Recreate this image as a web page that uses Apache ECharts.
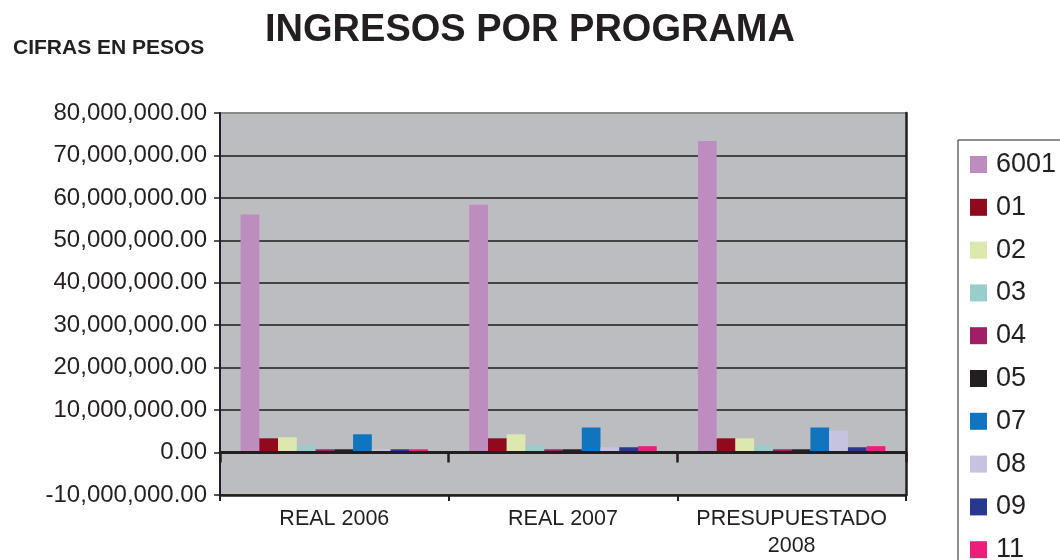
<!DOCTYPE html>
<html>
<head>
<meta charset="utf-8">
<title>Ingresos por programa</title>
<script src="https://cdn.jsdelivr.net/npm/echarts@6/dist/echarts.min.js"></script>
<style>
  html, body { margin: 0; padding: 0; background: #ffffff; }
  #chart { width: 1060px; height: 560px; }
</style>
</head>
<body>
<div id="chart"></div>
<script>
// Periodos (categorías del eje X)
const categories = ['REAL 2006', 'REAL 2007', 'PRESUPUESTADO\n2008'];

// Ingresos por programa, en pesos
const programas = ['6001', '01', '02', '03', '04', '05', '07', '08', '09', '11'];
const p6001 = [56100000, 58400000, 73400000];
const p01 = [3350000, 3350000, 3350000];
const p02 = [3600000, 4300000, 3350000];
const p03 = [1700000, 1700000, 1700000];
const p04 = [770000, 770000, 770000];
const p05 = [770000, 770000, 770000];
const p07 = [4300000, 5900000, 5900000];
const p08 = [770000, 1250000, 5200000];
const p09 = [770000, 1250000, 1250000];
const p11 = [770000, 1500000, 1500000];
const valores = [p6001, p01, p02, p03, p04, p05, p07, p08, p09, p11];

const colores = ['#BE8DBF', '#8E0A1C', '#DDE8AE', '#99CDCB', '#9E1F63',
                 '#231F20', '#1174BF', '#C6C3E0', '#283891', '#EC1E7C'];

// Eje Y
const yMin = -10000000;
const yMax = 80000000;
const yStep = 10000000;

const FONT = '"Liberation Sans", Arial, Helvetica, sans-serif';
const INK = '#231F20';

function formatoPesos(v) {
  const neg = v < 0;
  const s = Math.abs(v).toFixed(2);
  const [ent, dec] = s.split('.');
  const conComas = ent.replace(/\B(?=(\d{3})+(?!\d))/g, ',');
  return (neg ? '-' : '') + conComas + '.' + dec;
}

// Líneas de cuadrícula: la superior más clara
const nLineas = Math.round((yMax - yMin) / yStep) + 1;
const coloresRejilla = [];
for (let i = 0; i < nLineas; i++) {
  coloresRejilla.push(i === nLineas - 1 ? '#8a8a8a' : '#444444');
}

const chart = echarts.init(document.getElementById('chart'), null, { renderer: 'canvas' });

const option = {
  backgroundColor: '#ffffff',
  animation: false,
  title: [
    {
      text: 'INGRESOS POR PROGRAMA',
      left: 'center',
      top: 7,
      textStyle: { fontFamily: FONT, fontWeight: 'bold', fontSize: 38, color: INK }
    },
    {
      text: 'CIFRAS EN PESOS',
      left: 8,
      top: 33,
      textStyle: { fontFamily: FONT, fontWeight: 'bold', fontSize: 21, color: INK }
    }
  ],
  legend: {
    orient: 'vertical',
    left: 958,
    top: 140,
    height: 460,
    padding: [11, 40, 12, 12],
    itemWidth: 17,
    itemHeight: 17,
    itemGap: 15.8,
    icon: 'rect',
    borderColor: INK,
    borderWidth: 1,
    backgroundColor: '#ffffff',
    data: programas,
    textStyle: {
      fontFamily: FONT,
      fontSize: 27,
      lineHeight: 25,
      color: INK,
      padding: [0, 0, 0, 4]
    }
  },
  grid: {
    left: 220,
    right: 154,
    top: 113,
    bottom: 63,
    show: true,
    backgroundColor: '#BCBDC0',
    borderWidth: 0
  },
  xAxis: [
    {
      type: 'category',
      data: categories,
      position: 'bottom',
      axisLine: { show: true, onZero: false, lineStyle: { color: INK, width: 2.5 } },
      axisTick: { show: true, length: 6, lineStyle: { color: INK, width: 2 } },
      axisLabel: {
        interval: 0,
        fontFamily: FONT,
        fontSize: 21.5,
        lineHeight: 27,
        color: INK,
        margin: 11
      },
      splitLine: { show: false }
    },
    {
      type: 'category',
      data: categories,
      position: 'bottom',
      z: 10,
      axisLine: { show: true, onZero: true, lineStyle: { color: INK, width: 3 } },
      axisTick: { show: true, interval: 0, inside: false, length: 10, lineStyle: { color: INK, width: 2.5 } },
      axisLabel: { show: false },
      splitLine: { show: false }
    }
  ],
  yAxis: [
    {
      type: 'value',
      min: yMin,
      max: yMax,
      interval: yStep,
      axisLine: { show: true, lineStyle: { color: INK, width: 2 } },
      axisTick: { show: true, length: 6, lineStyle: { color: INK, width: 1.5 } },
      axisLabel: {
        fontFamily: FONT,
        fontSize: 24,
        color: INK,
        margin: 13,
        formatter: formatoPesos
      },
      splitLine: { show: true, lineStyle: { color: coloresRejilla, width: 2 } }
    },
    {
      type: 'value',
      position: 'right',
      min: yMin,
      max: yMax,
      interval: yStep,
      axisLine: { show: true, lineStyle: { color: INK, width: 2.5 } },
      axisTick: { show: false },
      axisLabel: { show: false },
      splitLine: { show: false }
    }
  ],
  series: programas.map((nombre, i) => ({
    name: nombre,
    type: 'bar',
    xAxisIndex: 0,
    yAxisIndex: 0,
    data: valores[i],
    barGap: '0%',
    barCategoryGap: '18%',
    itemStyle: { color: colores[i] }
  }))
};

chart.setOption(option);
</script>
</body>
</html>
